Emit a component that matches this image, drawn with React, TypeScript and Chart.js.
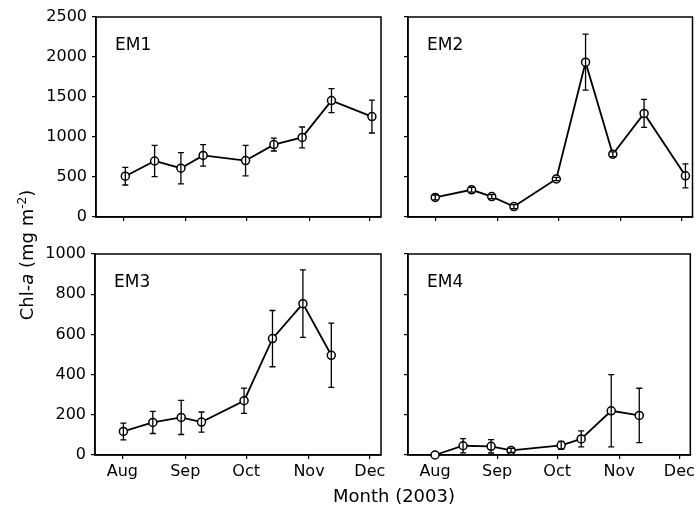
import React, { useEffect, useRef } from "react";
import { Chart, registerables } from "chart.js";

Chart.register(...registerables);

// ---------- data ----------
const monthTicks = [0, 31, 61, 92, 122]; // days since 1 Aug 2003
const monthLabels = ["Aug", "Sep", "Oct", "Nov", "Dec"];

const em1Days = [1, 15.5, 28.5, 39.5, 60.5, 74.5, 88.5, 103, 123];
const em1Values = [510, 700, 610, 770, 705, 905, 995, 1455, 1255];
const em1Errors = [110, 195, 195, 135, 190, 80, 130, 150, 205];

const em2Days = [0, 18, 28, 39, 60, 74.5, 88, 103.5, 124];
const em2Values = [245, 340, 255, 130, 475, 1935, 785, 1295, 515];
const em2Errors = [30, 30, 25, 25, 20, 350, 30, 175, 150];

const em3Days = [0.5, 15, 29, 39, 60, 74, 89, 103];
const em3Values = [117, 162, 187, 164, 270, 579, 753, 496];
const em3Errors = [42, 55, 85, 50, 63, 140, 168, 160];

const em4Days = [0, 14, 28, 38, 63, 73, 88, 102];
const em4Values = [0, 46, 43, 23, 48, 80, 220, 197];
const em4Errors = [0, 35, 33, 10, 20, 40, 180, 135];

const yTopMax = 2500;
const yTopStep = 500;
const yBottomMax = 1000;
const yBottomStep = 200;

const xMin = -13.5;
const xMax = 127.5;

const FONT = "'DejaVu Sans', 'Liberation Sans', Arial, sans-serif";
const W = 698;
const H = 511;

type Box = { l: number; r: number; t: number; b: number };

const errorBarPlugin = {
  id: "errorBars",
  afterDatasetsDraw(chart: any) {
    const ctx = chart.ctx;
    const xs = chart.scales.x;
    const ys = chart.scales.y;
    chart.data.datasets.forEach((ds: any) => {
      const errs: number[] = ds.errors || [];
      ctx.save();
      ctx.strokeStyle = "#000";
      ctx.lineWidth = 1.3;
      ds.data.forEach((p: any, i: number) => {
        const e = errs[i] || 0;
        if (!e) return;
        const px = xs.getPixelForValue(p.x);
        const top = ys.getPixelForValue(p.y + e);
        const bot = ys.getPixelForValue(Math.max(p.y - e, 0));
        ctx.beginPath();
        ctx.moveTo(px, top);
        ctx.lineTo(px, bot);
        ctx.moveTo(px - 3, top);
        ctx.lineTo(px + 3, top);
        ctx.moveTo(px - 3, bot);
        ctx.lineTo(px + 3, bot);
        ctx.stroke();
      });
      ctx.restore();
    });
  },
};

const frameAndLabelPlugin = {
  id: "frameAndLabel",
  beforeDatasetsDraw(chart: any) {
    const { ctx, chartArea } = chart;
    ctx.save();
    ctx.strokeStyle = "#000";
    ctx.lineWidth = 1.5;
    ctx.strokeRect(chartArea.left, chartArea.top, chartArea.right - chartArea.left, chartArea.bottom - chartArea.top);
    const lbl = chart.options.plugins.frameAndLabel?.label;
    if (lbl) {
      ctx.fillStyle = "#000";
      ctx.font = `17px ${FONT}`;
      ctx.textAlign = "left";
      ctx.textBaseline = "middle";
      ctx.fillText(lbl, chartArea.left + 19, chartArea.top + 29);
    }
    ctx.restore();
  },
};

const titlesPlugin = {
  id: "titles",
  afterDraw(chart: any) {
    if (!chart.options.plugins.titles?.show) return;
    const ctx = chart.ctx;
    ctx.save();
    ctx.fillStyle = "#000";
    // x title
    ctx.font = `18px ${FONT}`;
    ctx.textAlign = "center";
    ctx.textBaseline = "alphabetic";
    ctx.fillText("Month (2003)", 394, 502);
    // y title with italic a and superscript
    const segs = [
      { t: "Chl-", f: `18px ${FONT}`, dy: 0 },
      { t: "a", f: `italic 18px ${FONT}`, dy: 0 },
      { t: " (mg m", f: `18px ${FONT}`, dy: 0 },
      { t: "-2", f: `12px ${FONT}`, dy: -7 },
      { t: ")", f: `18px ${FONT}`, dy: 0 },
    ];
    let total = 0;
    segs.forEach((s) => {
      ctx.font = s.f;
      total += ctx.measureText(s.t).width;
    });
    ctx.translate(33, 255);
    ctx.rotate(-Math.PI / 2);
    ctx.textAlign = "left";
    let x = -total / 2;
    segs.forEach((s) => {
      ctx.font = s.f;
      ctx.fillText(s.t, x, s.dy);
      x += ctx.measureText(s.t).width;
    });
    ctx.restore();
  },
};

type PanelProps = {
  days: number[];
  values: number[];
  errors: number[];
  label: string;
  yMax: number;
  yStep: number;
  showY: boolean;
  showX: boolean;
  box: Box;
  titles?: boolean;
};

function Panel(props: PanelProps) {
  const ref = useRef<HTMLCanvasElement | null>(null);
  useEffect(() => {
    const { days, values, errors, label, yMax, yStep, showY, showX, box, titles } = props;
    const YW = showY ? 70 : 6;
    const XH = showX ? 26 : 6;
    const chart = new Chart(ref.current as HTMLCanvasElement, {
      type: "line",
      data: {
        datasets: [
          {
            data: days.map((d, i) => ({ x: d, y: values[i] })),
            errors,
            borderColor: "#000",
            borderWidth: 1.8,
            pointRadius: 4,
            pointBorderWidth: 1.5,
            pointBackgroundColor: "#fff",
            pointBorderColor: "#000",
            tension: 0,
            clip: false,
          } as any,
        ],
      },
      options: {
        animation: false,
        responsive: false,
        devicePixelRatio: 1,
        layout: {
          padding: { left: box.l - YW, top: box.t, right: W - box.r, bottom: H - box.b - XH },
        },
        plugins: {
          legend: { display: false },
          tooltip: { enabled: false },
          frameAndLabel: { label },
          titles: { show: !!titles },
        } as any,
        scales: {
          x: {
            type: "linear",
            min: xMin,
            max: xMax,
            afterBuildTicks: (s: any) => {
              s.ticks = monthTicks.map((v) => ({ value: v }));
            },
            afterFit: (s: any) => {
              s.height = XH;
            },
            ticks: {
              display: showX,
              autoSkip: false,
              maxRotation: 0,
              color: "#000",
              padding: 3,
              font: { family: FONT, size: 16 },
              callback: (v: any) => {
                const i = monthTicks.indexOf(Number(v));
                return i >= 0 ? monthLabels[i] : "";
              },
            },
            grid: { display: true, drawOnChartArea: false, drawTicks: true, tickLength: 4, color: "#000", lineWidth: 1.2 },
            border: { display: true, color: "#000", width: 1.5 },
          },
          y: {
            min: 0,
            max: yMax,
            afterFit: (s: any) => {
              s.width = YW;
            },
            ticks: {
              display: showY,
              stepSize: yStep,
              color: "#000",
              padding: 5,
              font: { family: FONT, size: 16 },
              callback: (v: any) => String(v),
            },
            grid: { display: true, drawOnChartArea: false, drawTicks: true, tickLength: 4, color: "#000", lineWidth: 1.2 },
            border: { display: true, color: "#000", width: 1.5 },
          },
        },
      } as any,
      plugins: [frameAndLabelPlugin, errorBarPlugin, titlesPlugin],
    });
    return () => chart.destroy();
  }, []);
  return (
    <canvas
      ref={ref}
      width={W}
      height={H}
      style={{ position: "absolute", left: 0, top: 0, width: W, height: H }}
    />
  );
}

export default function App() {
  return (
    <div style={{ position: "fixed", left: 0, top: 0, width: W, height: H, background: "#fff" }}>
      <Panel days={em1Days} values={em1Values} errors={em1Errors} label="EM1" yMax={yTopMax} yStep={yTopStep} showY={true} showX={false} box={{ l: 96, r: 381, t: 17, b: 217 }} />
      <Panel days={em2Days} values={em2Values} errors={em2Errors} label="EM2" yMax={yTopMax} yStep={yTopStep} showY={false} showX={false} box={{ l: 408, r: 693, t: 17, b: 217 }} />
      <Panel days={em3Days} values={em3Values} errors={em3Errors} label="EM3" yMax={yBottomMax} yStep={yBottomStep} showY={true} showX={true} box={{ l: 95, r: 381, t: 254, b: 455 }} titles={true} />
      <Panel days={em4Days} values={em4Values} errors={em4Errors} label="EM4" yMax={yBottomMax} yStep={yBottomStep} showY={false} showX={true} box={{ l: 408, r: 693, t: 254, b: 455 }} />
    </div>
  );
}
